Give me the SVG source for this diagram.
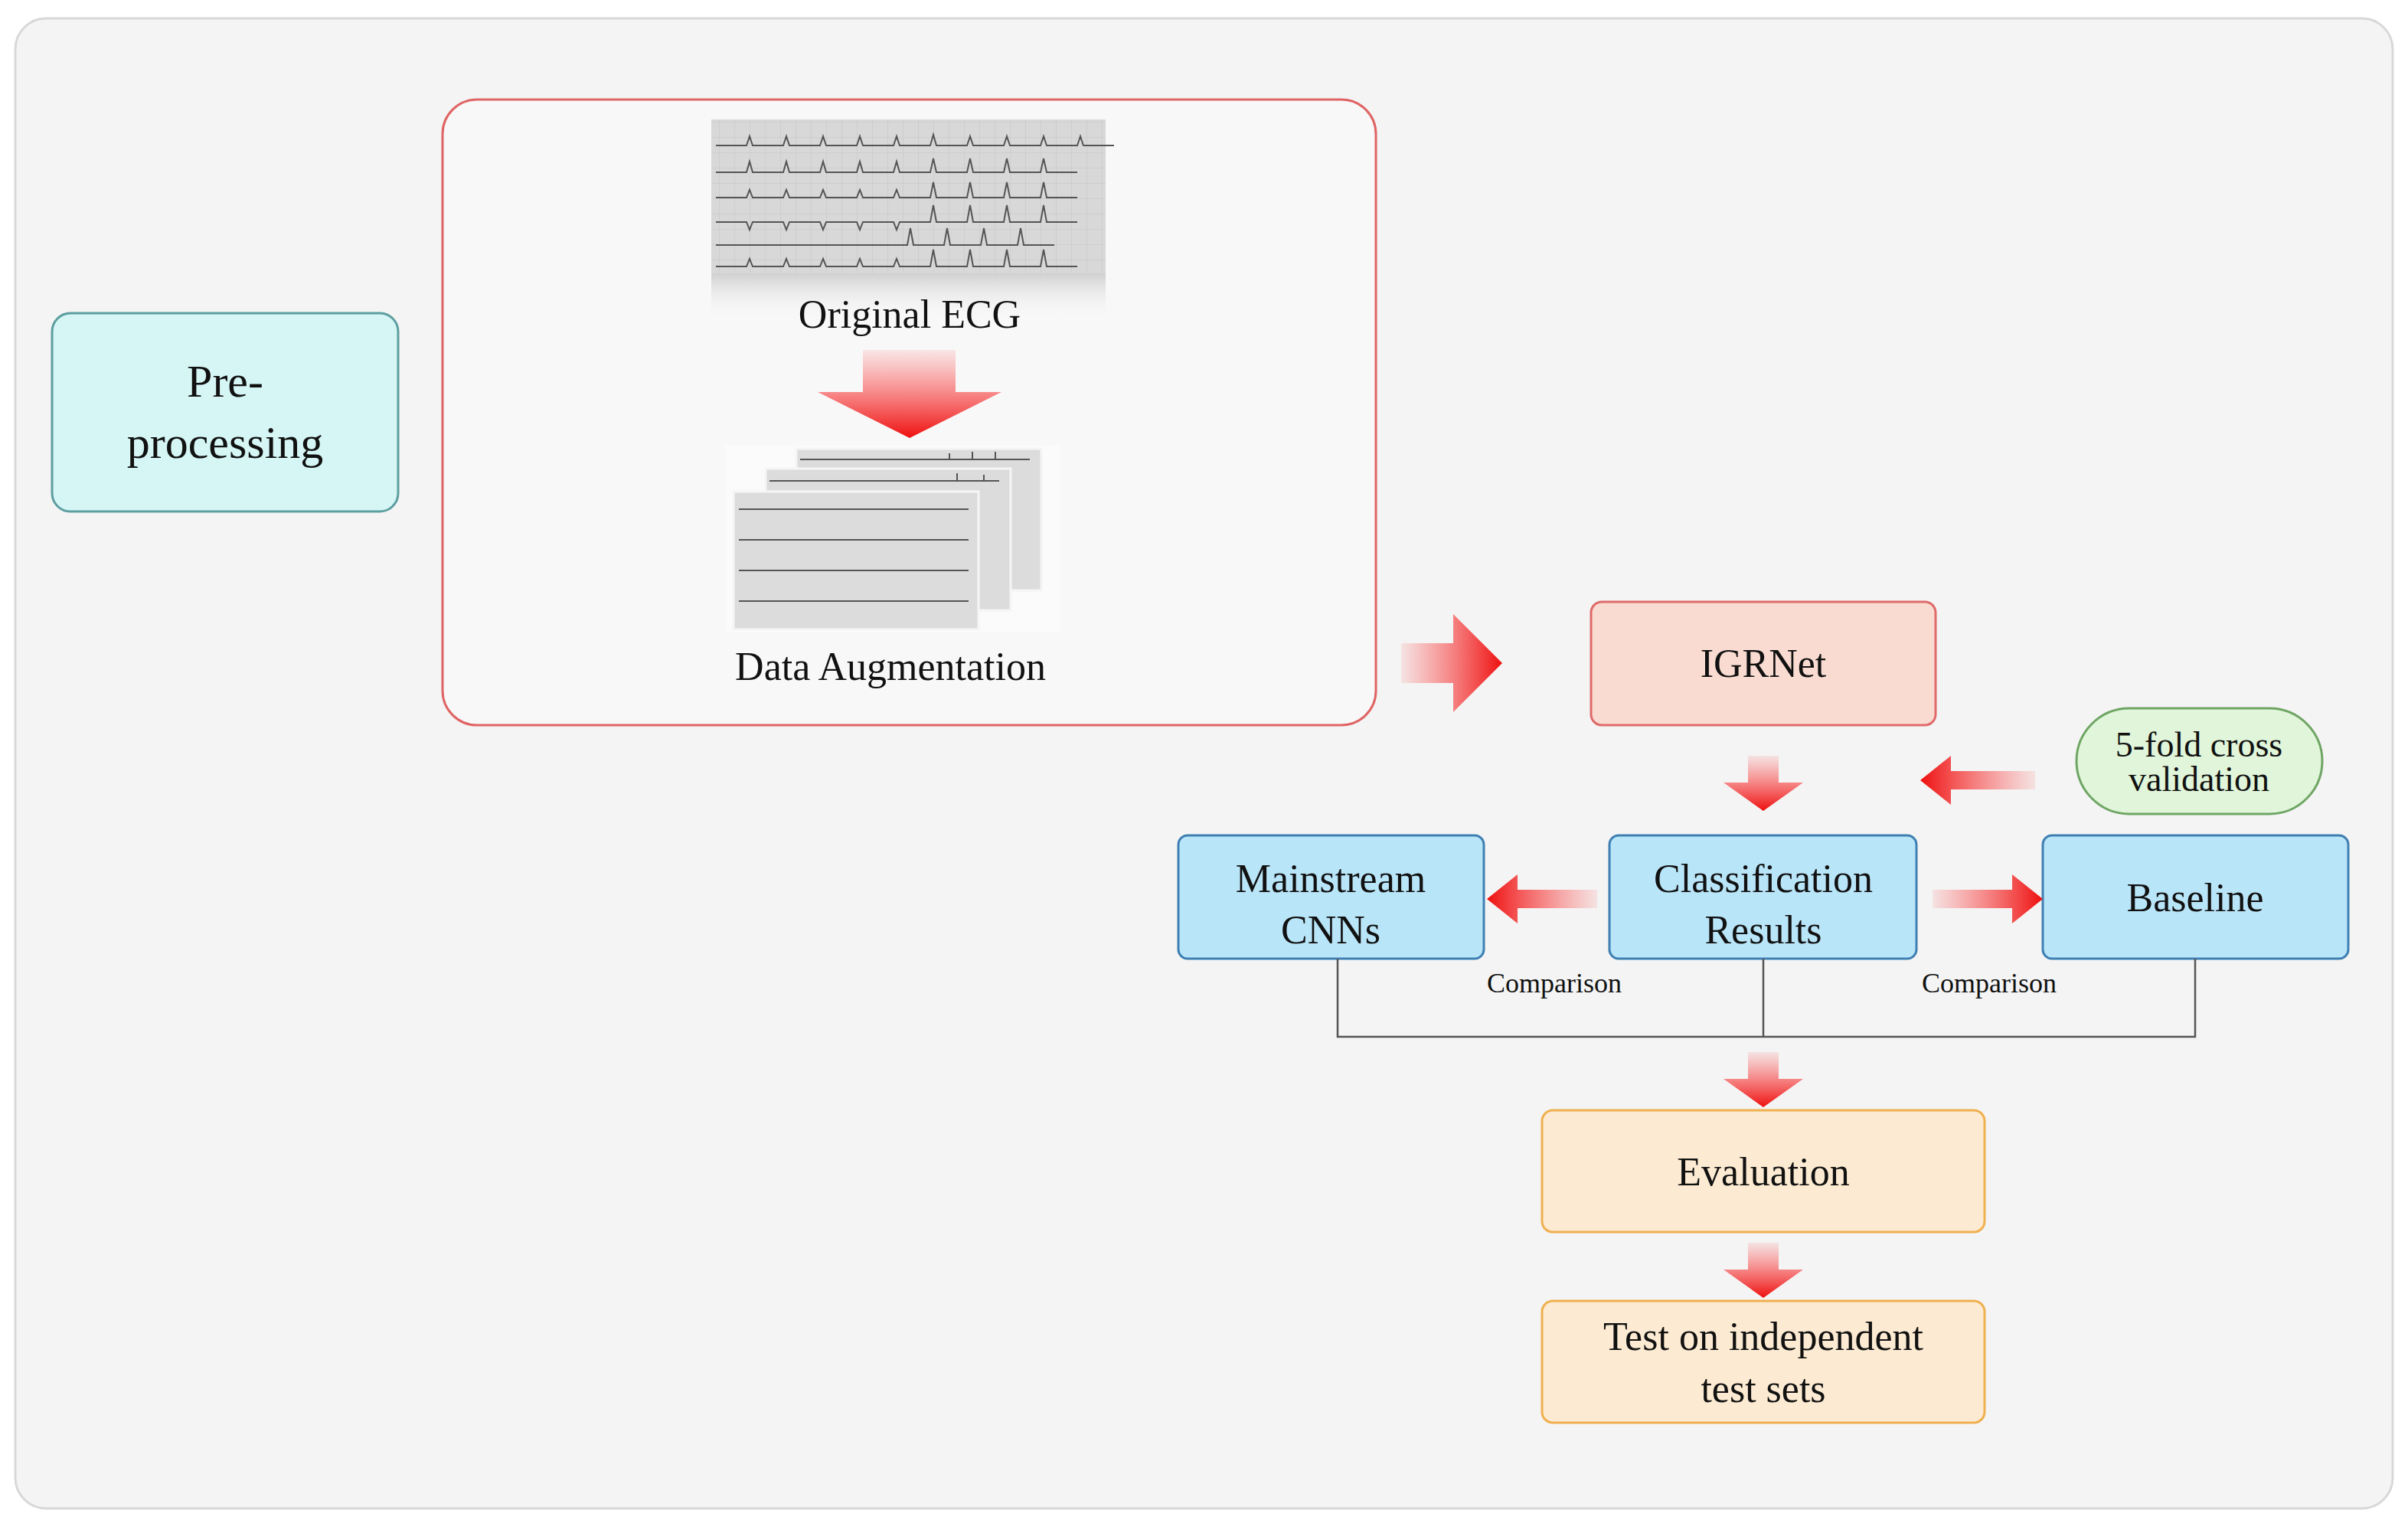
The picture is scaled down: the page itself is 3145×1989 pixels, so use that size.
<svg xmlns="http://www.w3.org/2000/svg" width="3145" height="1989" viewBox="0 0 3145 1989">
<style>
.t{font-family:"Liberation Serif","Times New Roman",serif;fill:#111;text-anchor:middle}
.m{font-size:52px}
.s{font-size:36px}
.blue{fill:#b9e5f8;stroke:#3f80b3;stroke-width:3}
.org{fill:#fcebd2;stroke:#f0b050;stroke-width:3}
.ln{fill:none;stroke:#555;stroke-width:2.5}
.sheet{fill:#dcdcdc;stroke:#f5f5f5;stroke-width:3}
.trace{fill:none;stroke:#555;stroke-width:2}
</style>
<defs>
<linearGradient id="gd" x1="0" y1="0" x2="0" y2="1"><stop offset="0" stop-color="#ff4040" stop-opacity="0.1"/><stop offset="1" stop-color="#ee1010"/></linearGradient>
<linearGradient id="gr" x1="0" y1="0" x2="1" y2="0"><stop offset="0" stop-color="#ff4040" stop-opacity="0.1"/><stop offset="1" stop-color="#ee1010"/></linearGradient>
<linearGradient id="gl" x1="1" y1="0" x2="0" y2="0"><stop offset="0" stop-color="#ff4040" stop-opacity="0.1"/><stop offset="1" stop-color="#ee1010"/></linearGradient>
<pattern id="grid" width="20" height="20" patternUnits="userSpaceOnUse"><rect width="20" height="20" fill="#d8d8d8"/><path d="M20 0V20M0 20H20" stroke="#c4c4c4" stroke-width="1"/></pattern>
<linearGradient id="fade" x1="0" y1="0" x2="0" y2="1"><stop offset="0" stop-color="#d0d0d0"/><stop offset="1" stop-color="#f7f7f7" stop-opacity="0"/></linearGradient>
</defs>
<rect x="20" y="24" width="3105" height="1946" rx="40" fill="#f4f4f4" stroke="#d8d8d8" stroke-width="3"/>

<g id="preprocessing">
<rect x="68" y="409" width="452" height="259" rx="24" fill="#d5f6f5" stroke="#5d9ea0" stroke-width="3"/>
<text class="t" x="294" y="518" font-size="60">Pre-</text>
<text class="t" x="294" y="598" font-size="60">processing</text>
</g>

<g id="augmentation">
<rect x="578" y="130" width="1219" height="817" rx="45" fill="#f8f8f8" stroke="#e06464" stroke-width="3"/>
<rect x="929" y="156" width="515" height="201" fill="url(#grid)"/>
<rect x="929" y="357" width="515" height="60" fill="url(#fade)"/>
<g class="trace">
<path d="M935 190h40l4-12 4 12h40l4-12 4 12h40l4-12 4 12h40l4-12 4 12h40l4-12 4 12h40l4 -14 4 14h40l4-12 4 12h40l4-12 4 12h40l4-12 4 12h40l4-12 4 12h40"/>
<path d="M935 225h40l4-14 4 14h40l4-14 4 14h40l4-14 4 14h40l4-14 4 14h40l4-14 4 14h40l4-18 4 18h40l4-18 4 18h40l4-18 4 18h40l4-18 4 18h40"/>
<path d="M935 258h40l4-10 4 10h40l4-10 4 10h40l4-10 4 10h40l4-10 4 10h40l4-10 4 10h40l4-20 4 20h40l4-20 4 20h40l4-20 4 20h40l4-20 4 20h40"/>
<path d="M935 290h40l4 10 4-10h40l4 10 4-10h40l4 10 4-10h40l4 10 4-10h40l4 10 4-10h40l4-22 4 22h40l4-22 4 22h40l4-22 4 22h40l4-22 4 22h40"/>
<path d="M935 320h250l4-22 4 22h40l4-22 4 22h40l4-22 4 22h40l4-22 4 22h40"/>
<path d="M935 348h40l4-10 4 10h40l4-10 4 10h40l4-10 4 10h40l4-10 4 10h40l4-10 4 10h40l4-22 4 22h40l4-22 4 22h40l4-22 4 22h40l4-22 4 22h40"/>
</g>
<text class="t m" x="1188" y="428">Original ECG</text>
<path d="M1127 457h121v55h60l-120 60-120-60h59z" fill="url(#gd)"/>
<rect x="947" y="582" width="437" height="244" fill="#fbfbfb"/>
<rect x="1040" y="586" width="320" height="185" class="sheet"/>
<rect x="1000" y="612" width="320" height="185" class="sheet"/>
<rect x="958" y="642" width="320" height="180" class="sheet"/>
<g class="trace">
<path d="M1045 600h300M1005 628h300"/>
<path d="M965 665h300M965 705h300M965 745h300M965 785h300"/>
<path d="M1240 600v-8M1270 600v-10M1300 600v-10M1285 628v-8M1250 628v-10"/>
</g>
<text class="t m" x="1163" y="888">Data Augmentation</text>
</g>

<g id="igrnet">
<rect x="2078" y="786" width="450" height="161" rx="14" fill="#f9dbd1" stroke="#e06a6a" stroke-width="3"/>
<text class="t m" x="2303" y="884">IGRNet</text>
</g>
<g id="crossval">
<rect x="2712" y="925" width="321" height="138" rx="69" fill="#e0f5d9" stroke="#6fa564" stroke-width="3"/>
<text class="t" x="2872" y="988" font-size="46">5-fold cross</text>
<text class="t" x="2872" y="1033" font-size="46">validation</text>
</g>
<g id="mainstream">
<rect x="1539" y="1091" width="399" height="161" rx="12" class="blue"/>
<text class="t m" x="1738" y="1165">Mainstream</text>
<text class="t m" x="1738" y="1232">CNNs</text>
</g>
<g id="classification">
<rect x="2102" y="1091" width="401" height="161" rx="12" class="blue"/>
<text class="t m" x="2303" y="1165">Classification</text>
<text class="t m" x="2303" y="1232">Results</text>
</g>
<g id="baseline">
<rect x="2668" y="1091" width="399" height="161" rx="12" class="blue"/>
<text class="t m" x="2867" y="1190">Baseline</text>
</g>
<g id="evaluation">
<rect x="2014" y="1450" width="578" height="159" rx="14" class="org"/>
<text class="t m" x="2303" y="1548">Evaluation</text>
</g>
<g id="test">
<rect x="2014" y="1699" width="578" height="159" rx="14" class="org"/>
<text class="t m" x="2303" y="1763">Test on independent</text>
<text class="t m" x="2303" y="1831">test sets</text>
</g>

<g id="connectors">
<path d="M1830 840h68v-38l64 64-64 64v-38h-68z" fill="url(#gr)"/>
<path d="M2283 987h40v35h32l-52 37-52-37h32z" fill="url(#gd)"/>
<path d="M2658 1007v24h-110v20l-40-32 40-32v20z" fill="url(#gl)"/>
<path d="M2086 1162v24h-104v20l-40-32 40-32v20z" fill="url(#gl)"/>
<path d="M2524 1162v24h104v20l40-32-40-32v20z" fill="url(#gr)"/>
<path class="ln" d="M1747 1252v102h1120v-102M2303 1252v102"/>
<text class="t s" x="2030" y="1296">Comparison</text>
<text class="t s" x="2598" y="1296">Comparison</text>
<path d="M2283 1374h40v35h32l-52 37-52-37h32z" fill="url(#gd)"/>
<path d="M2283 1623h40v35h32l-52 37-52-37h32z" fill="url(#gd)"/>
</g>
</svg>
